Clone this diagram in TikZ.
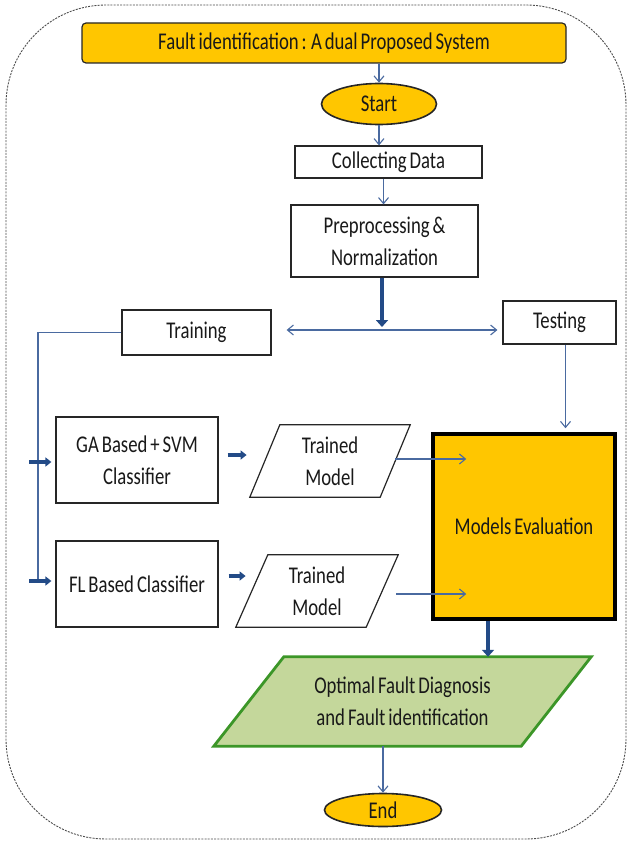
\documentclass[tikz,border=0pt]{standalone}
\usepackage{fontspec}
\setmainfont{Carlito}[FakeStretch=0.78, WordSpace=0.7]
\usetikzlibrary{arrows.meta,shapes.geometric,calc,backgrounds}
\definecolor{gold}{RGB}{255,198,0}
\definecolor{linkblue}{RGB}{74,106,160}
\definecolor{flowblue}{RGB}{35,75,135}
\definecolor{leaf}{RGB}{196,215,155}
\definecolor{leafedge}{RGB}{60,150,40}
\begin{document}
\begin{tikzpicture}[x=1pt,y=-1pt,
  every node/.style={font=\fontsize{24}{32}\selectfont, text=black!90, align=center, inner sep=0pt},
  plainbox/.style={draw=black!85, line width=1.2pt, fill=white},
  goldoval/.style={ellipse, draw=black!85, line width=1.6pt, fill=gold},
  slanted/.style={draw=none, fill=none},
  thinlink/.style={draw=linkblue, line width=1.1pt, -{Straight Barb[length=6pt,width=10pt]}},
  thinline/.style={draw=linkblue, line width=1.1pt},
  boldlink/.style={draw=flowblue, line width=4.5pt, -{Triangle[length=7pt,width=12pt]}},
  smallbold/.style={draw=flowblue, line width=4pt, -{Triangle[length=6pt,width=9pt]}}
]
\useasboundingbox (0,0) rectangle (630,842);

% outer dashed frame
\draw[black!70, line width=0.9pt, dash pattern=on 2pt off 1.2pt, rounded corners=100pt]
  (6,5) rectangle (626,839);

% nodes
\node[draw=black!85, line width=1.2pt, fill=gold, rounded corners=4pt,
      minimum width=484pt, minimum height=40pt] (title) at (324,43)
      {Fault identification : A dual Proposed System};
\node[goldoval, minimum width=115pt, minimum height=41pt] (start) at (379,104) {Start};
\node[plainbox, minimum width=187pt, minimum height=32pt] (collect) at (388.5,162) {Collecting Data};
\node[plainbox, minimum width=187pt, minimum height=72pt] (prep) at (384.5,241) {Preprocessing \&\\Normalization};
\node[plainbox, minimum width=149pt, minimum height=45pt] (train) at (196.5,332.5) {Training};
\node[plainbox, minimum width=113pt, minimum height=43pt] (test) at (559.5,322.5) {Testing};
\node[plainbox, minimum width=162pt, minimum height=86pt] (ga) at (137,460) {GA Based + SVM\\Classifier};
\node[plainbox, minimum width=162pt, minimum height=86pt] (fl) at (137,584) {FL Based Classifier};
\node[slanted, minimum width=130pt, minimum height=72pt] (tm1) at (330,461) {Trained\\Model};
\node[slanted, minimum width=130pt, minimum height=72pt] (tm2) at (317,591) {Trained\\Model};
\node[draw=black, line width=3.5pt, fill=gold, minimum width=182pt, minimum height=185pt] (eval) at (524,526.5) {Models Evaluation};
\node[slanted, minimum width=307pt, minimum height=89pt] (result) at (402.5,701.5) {Optimal Fault Diagnosis\\and Fault identification};
\node[goldoval, minimum width=117pt, minimum height=33pt] (end) at (383,810) {End};

% parallelogram outlines behind their texts
\begin{scope}[on background layer]
  \draw[plainbox] ($(tm1.south west)+(-15,0)$) -- ($(tm1.north west)+(15,0)$)
    -- ($(tm1.north east)+(15,0)$) -- ($(tm1.south east)+(-15,0)$) -- cycle;
  \draw[plainbox] ($(tm2.south west)+(-16,0)$) -- ($(tm2.north west)+(16,0)$)
    -- ($(tm2.north east)+(16,0)$) -- ($(tm2.south east)+(-16,0)$) -- cycle;
  \draw[draw=leafedge, line width=2.8pt, fill=leaf, line join=miter]
    ($(result.south west)+(-35,0)$) -- ($(result.north west)+(35,0)$)
    -- ($(result.north east)+(35,0)$) -- ($(result.south east)+(-35,0)$) -- cycle;
\end{scope}

% main flow
\draw[thinlink] (start.north |- title.south) -- (start.north);
\draw[thinlink] (start.south) -- (start.south |- collect.north);
\draw[thinlink] ([xshift=-5pt]collect.south) -- ([xshift=-5pt]collect.south |- prep.north);

\coordinate (split) at (382,330);
\draw[boldlink] (split |- prep.south) -- ([yshift=3pt]split);
\draw[thinline, {Straight Barb[length=6pt,width=10pt]}-{Straight Barb[length=6pt,width=10pt]}]
  ([xshift=15pt]train.east |- split) -- ([xshift=-5pt]test.west |- split);

% training branch
\coordinate (trunk) at (38,583);
\draw[thinline] (train.west) -| (trunk);
\draw[smallbold] ([xshift=-26pt,yshift=-2pt]ga.west) -- ([xshift=-4pt,yshift=-2pt]ga.west);
\draw[smallbold] ([xshift=-26pt,yshift=3pt]fl.west) -- ([xshift=-4pt,yshift=3pt]fl.west);
\draw[smallbold] ([xshift=9pt,yshift=5pt]ga.east) -- ([xshift=28pt,yshift=5pt]ga.east);
\draw[smallbold] ([xshift=10pt,yshift=8pt]fl.east) -- ([xshift=27pt,yshift=8pt]fl.east);

% into evaluation
\draw[thinlink] ([yshift=2pt]tm1.east) -- ([xshift=35pt,yshift=2pt]eval.west |- tm1.east);
\draw[thinlink] ([xshift=14pt,yshift=-3pt]tm2.east) -- ([xshift=35pt,yshift=-3pt]eval.west |- tm2.east);
\draw[thinlink] ([xshift=6pt]test.south) -- ([xshift=6pt,yshift=4pt]test.south |- eval.north);

% result and end
\draw[boldlink] ([xshift=-36pt]eval.south) -- ([xshift=-36pt]eval.south |- result.north);
\draw[thinlink] ([xshift=-19.5pt]result.south) -- ([xshift=-19.5pt]result.south |- end.north);
\end{tikzpicture}
\end{document}
